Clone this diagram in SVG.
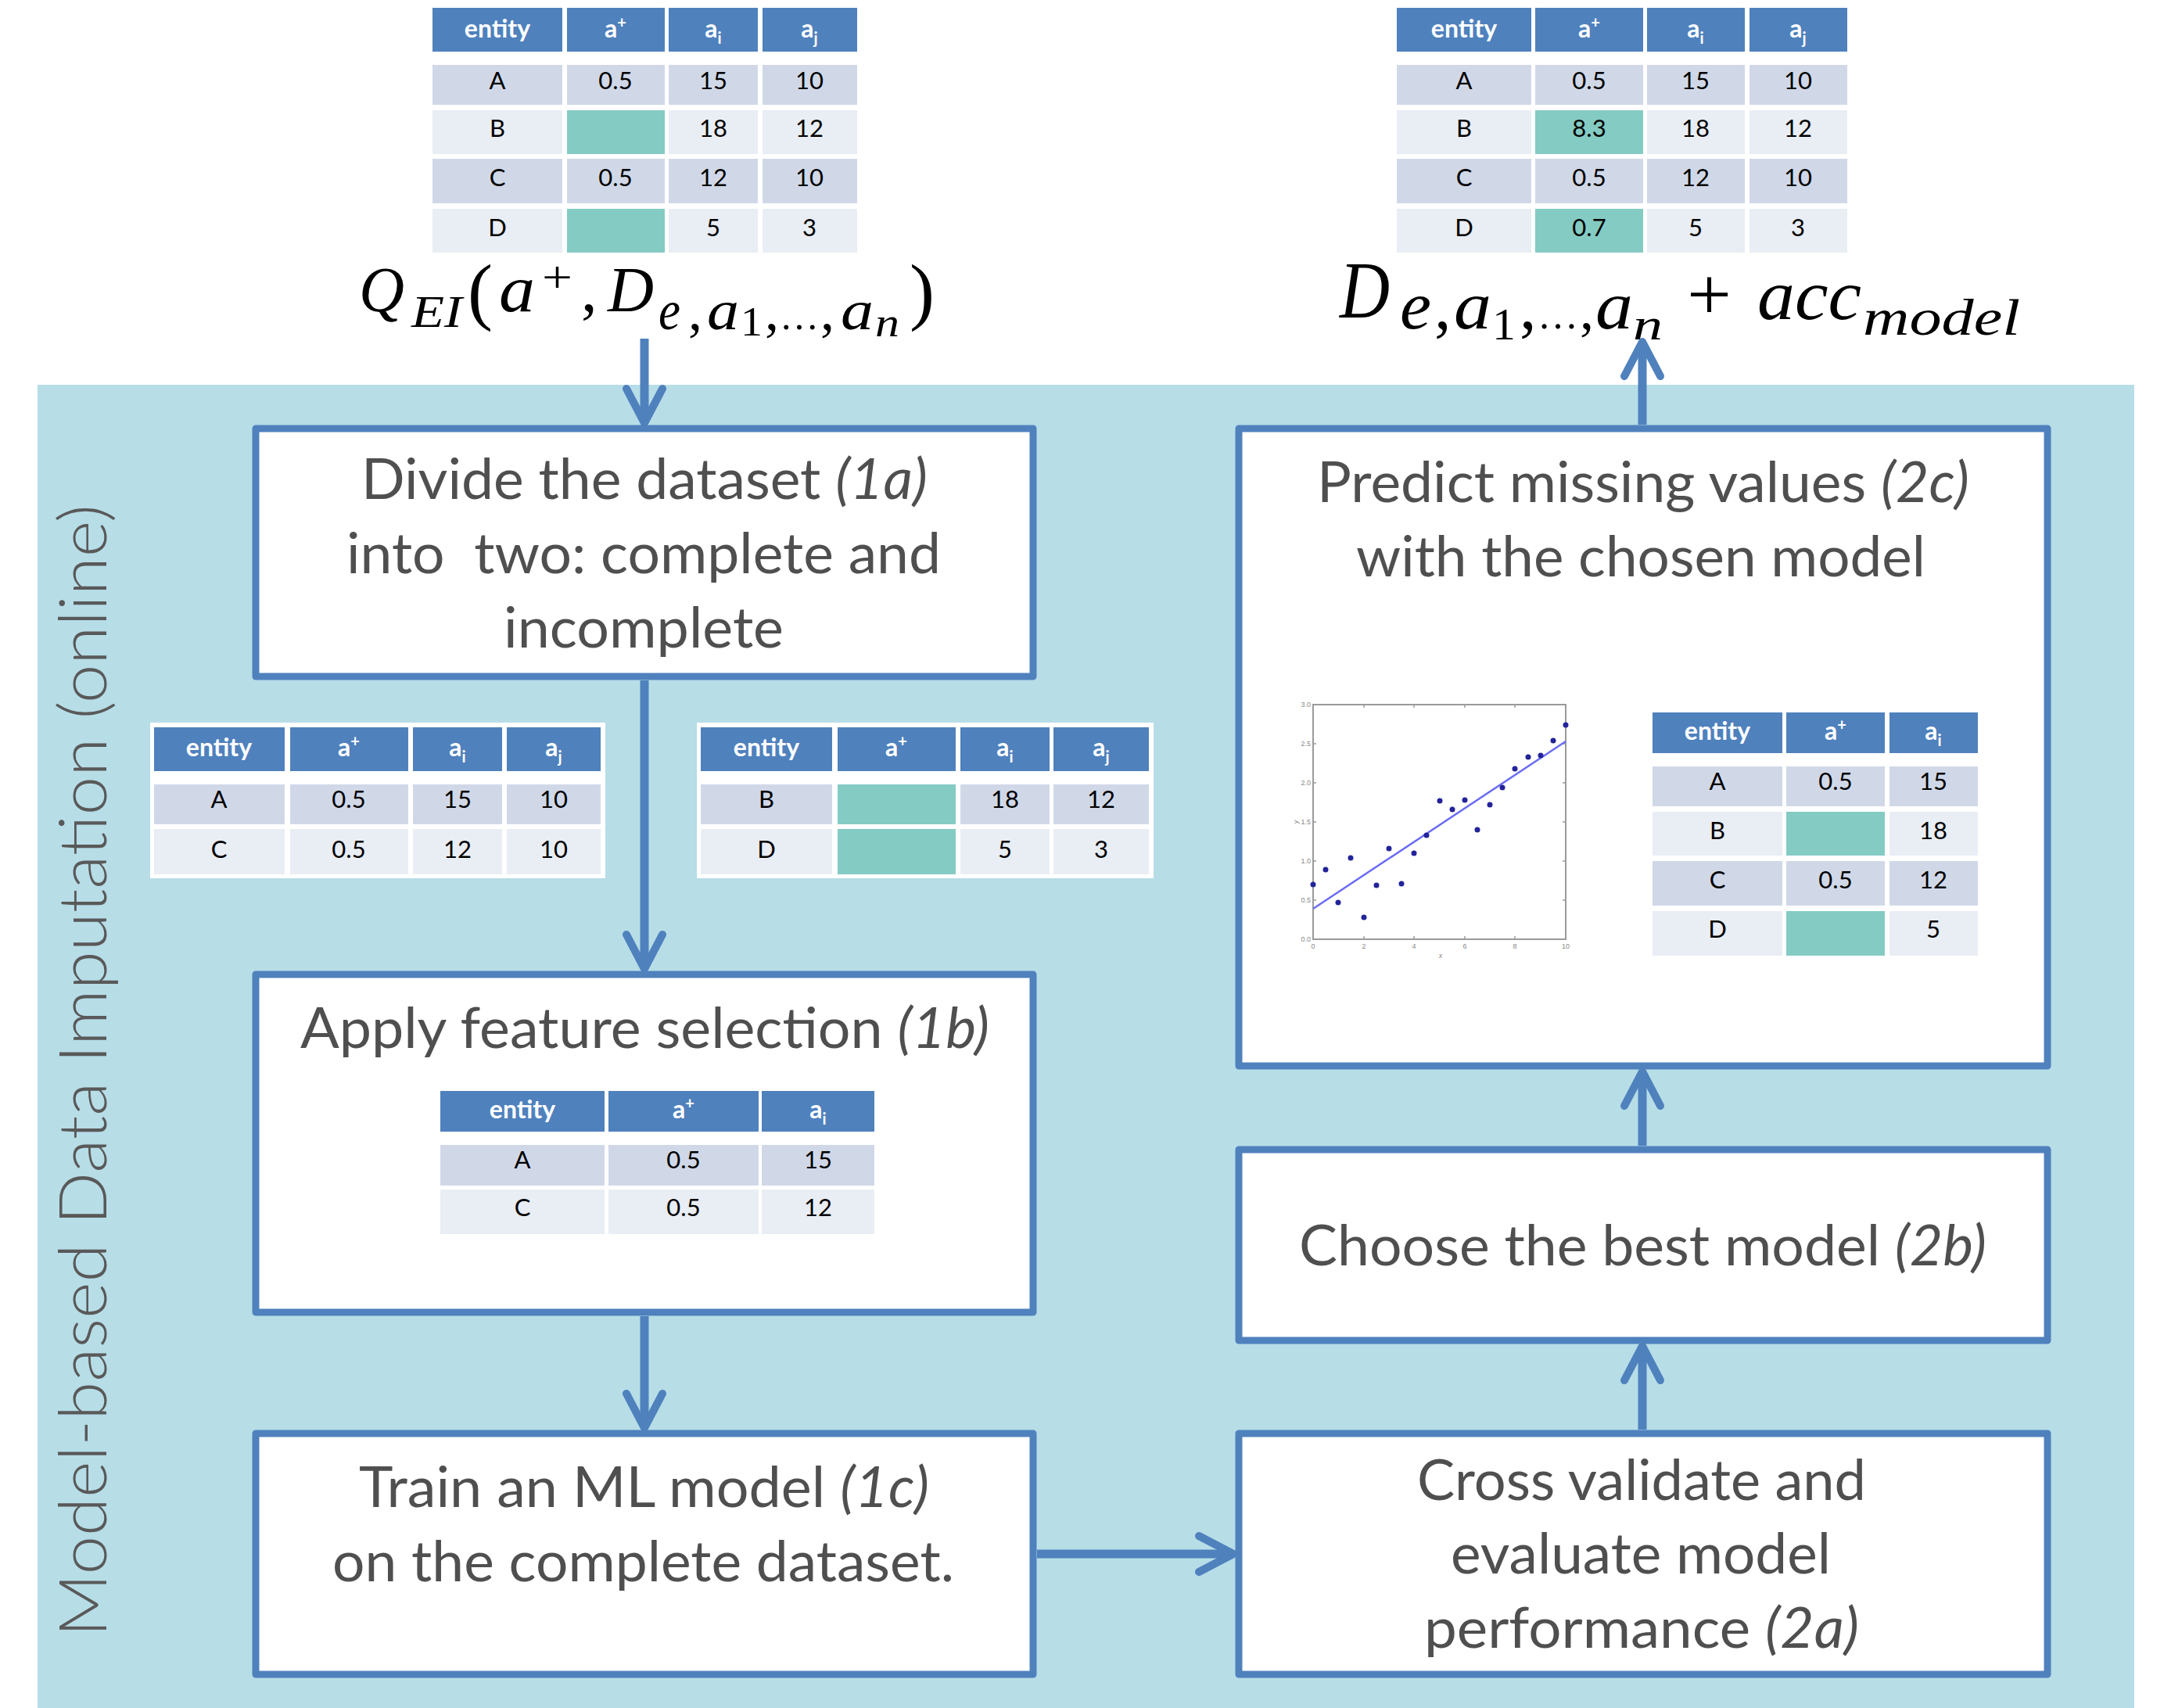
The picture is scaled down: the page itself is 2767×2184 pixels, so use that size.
<svg xmlns="http://www.w3.org/2000/svg" width="2767" height="2184" viewBox="0 0 2767 2184">
<defs>
<style>
.hd{fill:#4f81bd}
.r1{fill:#d0d8e8}
.r2{fill:#e9edf4}
.tl{fill:#84cbc3}
.wb{fill:#ffffff}
.th{font-family:Lato,'Open Sans',sans-serif;font-weight:bold;font-size:32px;fill:#ffffff;text-anchor:middle}
.td{font-family:Lato,'Open Sans',sans-serif;font-size:31px;fill:#000000;text-anchor:middle}
.ss{font-size:20px}
.box{fill:#ffffff;stroke:#4f81bd;stroke-width:9;stroke-linejoin:round}
.lbl{font-family:Lato,'Open Sans',sans-serif;font-size:72px;fill:#4f4f4f}
.it{font-style:italic}
.con{stroke:#4f81bd;stroke-width:11;fill:none;marker-end:url(#arr)}
.mi{font-family:'Liberation Serif','DejaVu Serif',serif;font-style:italic;fill:#000000}
.up{font-style:normal}
.tk{font-family:'Liberation Sans',sans-serif;font-size:9px;fill:#888888}
</style>
<marker id="arr" markerUnits="userSpaceOnUse" markerWidth="80" markerHeight="80" viewBox="-60 -40 80 80" refX="0" refY="0" orient="auto" overflow="visible">
<path d="M-44,-23 L0,0 L-44,23" fill="none" stroke="#4f81bd" stroke-width="10" stroke-linecap="round" stroke-linejoin="round"/>
</marker>
</defs>
<rect x="0" y="0" width="2767" height="2184" fill="#ffffff"/>
<rect id="panel" x="48" y="492" width="2681" height="1692" fill="#b7dde7"/>
<text id="side-label" transform="translate(136,2093) rotate(-90)" font-family="Lato,'Open Sans',sans-serif" font-weight="300" font-size="84" fill="#595959" textLength="1448" lengthAdjust="spacingAndGlyphs">Model-based Data Imputation (online)</text>

<!-- Top-left input table -->
<g id="table-input">
<rect class="hd" x="553" y="10" width="166" height="56"/><rect class="hd" x="725" y="10" width="125" height="56"/><rect class="hd" x="855" y="10" width="114" height="56"/><rect class="hd" x="975" y="10" width="121" height="56"/>
<rect class="r1" x="553" y="83" width="166" height="51"/><rect class="r1" x="725" y="83" width="125" height="51"/><rect class="r1" x="855" y="83" width="114" height="51"/><rect class="r1" x="975" y="83" width="121" height="51"/>
<rect class="r2" x="553" y="141" width="166" height="56"/><rect class="tl" x="725" y="141" width="125" height="56"/><rect class="r2" x="855" y="141" width="114" height="56"/><rect class="r2" x="975" y="141" width="121" height="56"/>
<rect class="r1" x="553" y="203" width="166" height="57"/><rect class="r1" x="725" y="203" width="125" height="57"/><rect class="r1" x="855" y="203" width="114" height="57"/><rect class="r1" x="975" y="203" width="121" height="57"/>
<rect class="r2" x="553" y="267" width="166" height="56"/><rect class="tl" x="725" y="267" width="125" height="56"/><rect class="r2" x="855" y="267" width="114" height="56"/><rect class="r2" x="975" y="267" width="121" height="56"/>
<text class="th" x="636" y="48">entity</text><text class="th" x="787" y="48">a<tspan class="ss" dy="-12">+</tspan></text><text class="th" x="912" y="48">a<tspan class="ss" dy="8">i</tspan></text><text class="th" x="1035" y="48">a<tspan class="ss" dy="8">j</tspan></text>
<text class="td" x="636" y="114">A</text><text class="td" x="787" y="114">0.5</text><text class="td" x="912" y="114">15</text><text class="td" x="1035" y="114">10</text>
<text class="td" x="636" y="175">B</text><text class="td" x="912" y="175">18</text><text class="td" x="1035" y="175">12</text>
<text class="td" x="636" y="238">C</text><text class="td" x="787" y="238">0.5</text><text class="td" x="912" y="238">12</text><text class="td" x="1035" y="238">10</text>
<text class="td" x="636" y="302">D</text><text class="td" x="912" y="302">5</text><text class="td" x="1035" y="302">3</text>
</g>

<!-- Top-right output table -->
<g id="table-output">
<rect class="hd" x="1786" y="10" width="172" height="56"/><rect class="hd" x="1963" y="10" width="138" height="56"/><rect class="hd" x="2106" y="10" width="125" height="56"/><rect class="hd" x="2237" y="10" width="125" height="56"/>
<rect class="r1" x="1786" y="83" width="172" height="51"/><rect class="r1" x="1963" y="83" width="138" height="51"/><rect class="r1" x="2106" y="83" width="125" height="51"/><rect class="r1" x="2237" y="83" width="125" height="51"/>
<rect class="r2" x="1786" y="141" width="172" height="56"/><rect class="tl" x="1963" y="141" width="138" height="56"/><rect class="r2" x="2106" y="141" width="125" height="56"/><rect class="r2" x="2237" y="141" width="125" height="56"/>
<rect class="r1" x="1786" y="203" width="172" height="57"/><rect class="r1" x="1963" y="203" width="138" height="57"/><rect class="r1" x="2106" y="203" width="125" height="57"/><rect class="r1" x="2237" y="203" width="125" height="57"/>
<rect class="r2" x="1786" y="267" width="172" height="56"/><rect class="tl" x="1963" y="267" width="138" height="56"/><rect class="r2" x="2106" y="267" width="125" height="56"/><rect class="r2" x="2237" y="267" width="125" height="56"/>
<text class="th" x="1872" y="48">entity</text><text class="th" x="2032" y="48">a<tspan class="ss" dy="-12">+</tspan></text><text class="th" x="2168" y="48">a<tspan class="ss" dy="8">i</tspan></text><text class="th" x="2299" y="48">a<tspan class="ss" dy="8">j</tspan></text>
<text class="td" x="1872" y="114">A</text><text class="td" x="2032" y="114">0.5</text><text class="td" x="2168" y="114">15</text><text class="td" x="2299" y="114">10</text>
<text class="td" x="1872" y="175">B</text><text class="td" x="2032" y="175">8.3</text><text class="td" x="2168" y="175">18</text><text class="td" x="2299" y="175">12</text>
<text class="td" x="1872" y="238">C</text><text class="td" x="2032" y="238">0.5</text><text class="td" x="2168" y="238">12</text><text class="td" x="2299" y="238">10</text>
<text class="td" x="1872" y="302">D</text><text class="td" x="2032" y="302">0.7</text><text class="td" x="2168" y="302">5</text><text class="td" x="2299" y="302">3</text>
</g>

<!-- Formulas -->
<text id="formula-input" class="mi" font-size="82"><tspan x="459" y="398" textLength="58" lengthAdjust="spacingAndGlyphs">Q</tspan><tspan x="526" y="418" font-size="56" textLength="65" lengthAdjust="spacingAndGlyphs">EI</tspan><tspan class="up" x="598" y="404" font-size="96">(</tspan><tspan x="638" y="398" font-size="84" textLength="46" lengthAdjust="spacingAndGlyphs">a</tspan><tspan class="up" x="693" y="374" font-size="58" textLength="39" lengthAdjust="spacingAndGlyphs">+</tspan><tspan class="up" x="743" y="398">,</tspan><tspan x="777" y="398" textLength="59" lengthAdjust="spacingAndGlyphs">D</tspan><tspan x="842" y="421" font-size="72" textLength="28" lengthAdjust="spacingAndGlyphs">e</tspan><tspan class="up" x="880" y="421" font-size="72">,</tspan><tspan x="904" y="421" font-size="72" textLength="41" lengthAdjust="spacingAndGlyphs">a</tspan><tspan class="up" x="947" y="429" font-size="52" textLength="28" lengthAdjust="spacingAndGlyphs">1</tspan><tspan class="up" x="978" y="421" font-size="72">,</tspan><tspan class="up" x="997" y="421" font-size="50">…</tspan><tspan class="up" x="1049" y="421" font-size="72">,</tspan><tspan x="1075" y="421" font-size="72" textLength="42" lengthAdjust="spacingAndGlyphs">a</tspan><tspan x="1119" y="430" font-size="52" textLength="31" lengthAdjust="spacingAndGlyphs">n</tspan><tspan class="up" x="1163" y="404" font-size="96">)</tspan></text>
<text id="formula-output" class="mi" font-size="86"><tspan x="1713" y="406" font-size="104" textLength="64" lengthAdjust="spacingAndGlyphs">D</tspan><tspan x="1790" y="420" textLength="40" lengthAdjust="spacingAndGlyphs">e</tspan><tspan class="up" x="1834" y="420">,</tspan><tspan x="1859" y="420" textLength="48" lengthAdjust="spacingAndGlyphs">a</tspan><tspan class="up" x="1908" y="434" font-size="58" textLength="30" lengthAdjust="spacingAndGlyphs">1</tspan><tspan class="up" x="1943" y="420">,</tspan><tspan class="up" x="1966" y="420" font-size="52">…</tspan><tspan class="up" x="2020" y="420" font-size="72">,</tspan><tspan x="2040" y="420" textLength="48" lengthAdjust="spacingAndGlyphs">a</tspan><tspan x="2088" y="434" font-size="58" textLength="38" lengthAdjust="spacingAndGlyphs">n</tspan><tspan class="up" x="2157" y="408" font-size="96" textLength="57" lengthAdjust="spacingAndGlyphs">+</tspan><tspan x="2247" y="408" font-size="92" textLength="133" lengthAdjust="spacingAndGlyphs">acc</tspan><tspan x="2382" y="428" font-size="66" textLength="201" lengthAdjust="spacingAndGlyphs">model</tspan></text>

<!-- Boxes -->
<g id="node-1a">
<rect class="box" x="327" y="548" width="994" height="317"/>
<text class="lbl" x="462" y="638" textLength="724" lengthAdjust="spacingAndGlyphs">Divide the dataset <tspan class="it">(1a)</tspan></text>
<text class="lbl" x="443" y="733" textLength="760" lengthAdjust="spacingAndGlyphs" xml:space="preserve">into  two: complete and</text>
<text class="lbl" x="644" y="828" textLength="358" lengthAdjust="spacingAndGlyphs">incomplete</text>
</g>
<g id="node-1b">
<rect class="box" x="327" y="1246" width="994" height="432"/>
<text class="lbl" x="384" y="1340" textLength="881" lengthAdjust="spacingAndGlyphs">Apply feature selection <tspan class="it">(1b)</tspan></text>
<rect class="hd" x="563" y="1395" width="210" height="52"/><rect class="hd" x="778" y="1395" width="192" height="52"/><rect class="hd" x="974" y="1395" width="144" height="52"/>
<rect class="r1" x="563" y="1464" width="210" height="52"/><rect class="r1" x="778" y="1464" width="192" height="52"/><rect class="r1" x="974" y="1464" width="144" height="52"/>
<rect class="r2" x="563" y="1521" width="210" height="57"/><rect class="r2" x="778" y="1521" width="192" height="57"/><rect class="r2" x="974" y="1521" width="144" height="57"/>
<text class="th" x="668" y="1430">entity</text><text class="th" x="874" y="1430">a<tspan class="ss" dy="-12">+</tspan></text><text class="th" x="1046" y="1430">a<tspan class="ss" dy="8">i</tspan></text>
<text class="td" x="668" y="1494">A</text><text class="td" x="874" y="1494">0.5</text><text class="td" x="1046" y="1494">15</text>
<text class="td" x="668" y="1555">C</text><text class="td" x="874" y="1555">0.5</text><text class="td" x="1046" y="1555">12</text>
</g>
<g id="node-1c">
<rect class="box" x="327" y="1833" width="994" height="308"/>
<text class="lbl" x="459" y="1927" textLength="729" lengthAdjust="spacingAndGlyphs">Train an ML model <tspan class="it">(1c)</tspan></text>
<text class="lbl" x="425" y="2022" textLength="795" lengthAdjust="spacingAndGlyphs">on the complete dataset.</text>
</g>
<g id="node-2c">
<rect class="box" x="1584" y="548" width="1034" height="815"/>
<text class="lbl" x="1684" y="642" textLength="834" lengthAdjust="spacingAndGlyphs">Predict missing values <tspan class="it">(2c)</tspan></text>
<text class="lbl" x="1734" y="737" textLength="728" lengthAdjust="spacingAndGlyphs">with the chosen model</text>
<g id="chart">
<rect x="1679" y="901" width="323" height="300" fill="#ffffff" stroke="#9a9a9a" stroke-width="2"/>
<path d="M1679,1151h4M1679,1101h4M1679,1051h4M1679,1001h4M1679,951h4M2002,1151h-4M2002,1101h-4M2002,1051h-4M2002,1001h-4M2002,951h-4M1744,1201v-4M1808,1201v-4M1873,1201v-4M1937,1201v-4M1744,901v4M1808,901v4M1873,901v4M1937,901v4" stroke="#9a9a9a" stroke-width="1.5"/>
<text class="tk" x="1676" y="1204" text-anchor="end">0.0</text><text class="tk" x="1676" y="1154" text-anchor="end">0.5</text><text class="tk" x="1676" y="1104" text-anchor="end">1.0</text><text class="tk" x="1676" y="1054" text-anchor="end">1.5</text><text class="tk" x="1676" y="1004" text-anchor="end">2.0</text><text class="tk" x="1676" y="954" text-anchor="end">2.5</text><text class="tk" x="1676" y="904" text-anchor="end">3.0</text>
<text class="tk" x="1679" y="1213" text-anchor="middle">0</text><text class="tk" x="1744" y="1213" text-anchor="middle">2</text><text class="tk" x="1808" y="1213" text-anchor="middle">4</text><text class="tk" x="1873" y="1213" text-anchor="middle">6</text><text class="tk" x="1937" y="1213" text-anchor="middle">8</text><text class="tk" x="2002" y="1213" text-anchor="middle">10</text>
<text class="tk" x="1842" y="1225" text-anchor="middle" font-style="italic">x</text>
<text class="tk" transform="translate(1660,1051) rotate(-90)" text-anchor="middle" font-style="italic">y</text>
<line x1="1679" y1="1162" x2="2002" y2="948" stroke="#6a6cf4" stroke-width="2.5"/>
<g fill="#23239a">
<circle cx="1679" cy="1131" r="3.5"/><circle cx="1695" cy="1112" r="3.5"/><circle cx="1711" cy="1154" r="3.5"/><circle cx="1727" cy="1097" r="3.5"/><circle cx="1744" cy="1173" r="3.5"/><circle cx="1760" cy="1132" r="3.5"/><circle cx="1776" cy="1085" r="3.5"/><circle cx="1792" cy="1130" r="3.5"/><circle cx="1808" cy="1091" r="3.5"/><circle cx="1824" cy="1068" r="3.5"/><circle cx="1841" cy="1024" r="3.5"/><circle cx="1857" cy="1035" r="3.5"/><circle cx="1873" cy="1023" r="3.5"/><circle cx="1889" cy="1061" r="3.5"/><circle cx="1905" cy="1029" r="3.5"/><circle cx="1921" cy="1007" r="3.5"/><circle cx="1937" cy="983" r="3.5"/><circle cx="1954" cy="968" r="3.5"/><circle cx="1970" cy="966" r="3.5"/><circle cx="1986" cy="947" r="3.5"/><circle cx="2002" cy="927" r="3.5"/>
</g>
</g>
<g id="table-2c">
<rect class="hd" x="2113" y="911" width="166" height="52"/><rect class="hd" x="2284" y="911" width="126" height="52"/><rect class="hd" x="2416" y="911" width="113" height="52"/>
<rect class="r1" x="2113" y="980" width="166" height="51"/><rect class="r1" x="2284" y="980" width="126" height="51"/><rect class="r1" x="2416" y="980" width="113" height="51"/>
<rect class="r2" x="2113" y="1038" width="166" height="56"/><rect class="tl" x="2284" y="1038" width="126" height="56"/><rect class="r2" x="2416" y="1038" width="113" height="56"/>
<rect class="r1" x="2113" y="1101" width="166" height="57"/><rect class="r1" x="2284" y="1101" width="126" height="57"/><rect class="r1" x="2416" y="1101" width="113" height="57"/>
<rect class="r2" x="2113" y="1165" width="166" height="57"/><rect class="tl" x="2284" y="1165" width="126" height="57"/><rect class="r2" x="2416" y="1165" width="113" height="57"/>
<text class="th" x="2196" y="946">entity</text><text class="th" x="2347" y="946">a<tspan class="ss" dy="-12">+</tspan></text><text class="th" x="2472" y="946">a<tspan class="ss" dy="8">i</tspan></text>
<text class="td" x="2196" y="1010">A</text><text class="td" x="2347" y="1010">0.5</text><text class="td" x="2472" y="1010">15</text>
<text class="td" x="2196" y="1073">B</text><text class="td" x="2472" y="1073">18</text>
<text class="td" x="2196" y="1136">C</text><text class="td" x="2347" y="1136">0.5</text><text class="td" x="2472" y="1136">12</text>
<text class="td" x="2196" y="1199">D</text><text class="td" x="2472" y="1199">5</text>
</g>
</g>
<g id="node-2b">
<rect class="box" x="1584" y="1470" width="1034" height="244"/>
<text class="lbl" x="1661" y="1618" textLength="879" lengthAdjust="spacingAndGlyphs">Choose the best model <tspan class="it">(2b)</tspan></text>
</g>
<g id="node-2a">
<rect class="box" x="1584" y="1833" width="1034" height="308"/>
<text class="lbl" x="1812" y="1918" textLength="574" lengthAdjust="spacingAndGlyphs">Cross validate and</text>
<text class="lbl" x="1855" y="2012" textLength="486" lengthAdjust="spacingAndGlyphs">evaluate model</text>
<text class="lbl" x="1821" y="2107" textLength="556" lengthAdjust="spacingAndGlyphs">performance <tspan class="it">(2a)</tspan></text>
</g>

<!-- Split tables -->
<g id="table-complete">
<rect class="wb" x="192" y="924" width="582" height="199"/>
<rect class="hd" x="197" y="930" width="167" height="56"/><rect class="hd" x="371" y="930" width="151" height="56"/><rect class="hd" x="528" y="930" width="114" height="56"/><rect class="hd" x="648" y="930" width="120" height="56"/>
<rect class="r1" x="197" y="1003" width="167" height="51"/><rect class="r1" x="371" y="1003" width="151" height="51"/><rect class="r1" x="528" y="1003" width="114" height="51"/><rect class="r1" x="648" y="1003" width="120" height="51"/>
<rect class="r2" x="197" y="1060" width="167" height="58"/><rect class="r2" x="371" y="1060" width="151" height="58"/><rect class="r2" x="528" y="1060" width="114" height="58"/><rect class="r2" x="648" y="1060" width="120" height="58"/>
<text class="th" x="280" y="967">entity</text><text class="th" x="446" y="967">a<tspan class="ss" dy="-12">+</tspan></text><text class="th" x="585" y="967">a<tspan class="ss" dy="8">i</tspan></text><text class="th" x="708" y="967">a<tspan class="ss" dy="8">j</tspan></text>
<text class="td" x="280" y="1033">A</text><text class="td" x="446" y="1033">0.5</text><text class="td" x="585" y="1033">15</text><text class="td" x="708" y="1033">10</text>
<text class="td" x="280" y="1097">C</text><text class="td" x="446" y="1097">0.5</text><text class="td" x="585" y="1097">12</text><text class="td" x="708" y="1097">10</text>
</g>
<g id="table-incomplete">
<rect class="wb" x="891" y="924" width="584" height="199"/>
<rect class="hd" x="896" y="930" width="168" height="56"/><rect class="hd" x="1071" y="930" width="151" height="56"/><rect class="hd" x="1228" y="930" width="114" height="56"/><rect class="hd" x="1347" y="930" width="122" height="56"/>
<rect class="r1" x="896" y="1003" width="168" height="51"/><rect class="tl" x="1071" y="1003" width="151" height="51"/><rect class="r1" x="1228" y="1003" width="114" height="51"/><rect class="r1" x="1347" y="1003" width="122" height="51"/>
<rect class="r2" x="896" y="1060" width="168" height="58"/><rect class="tl" x="1071" y="1060" width="151" height="58"/><rect class="r2" x="1228" y="1060" width="114" height="58"/><rect class="r2" x="1347" y="1060" width="122" height="58"/>
<text class="th" x="980" y="967">entity</text><text class="th" x="1146" y="967">a<tspan class="ss" dy="-12">+</tspan></text><text class="th" x="1285" y="967">a<tspan class="ss" dy="8">i</tspan></text><text class="th" x="1408" y="967">a<tspan class="ss" dy="8">j</tspan></text>
<text class="td" x="980" y="1033">B</text><text class="td" x="1285" y="1033">18</text><text class="td" x="1408" y="1033">12</text>
<text class="td" x="980" y="1097">D</text><text class="td" x="1285" y="1097">5</text><text class="td" x="1408" y="1097">3</text>
</g>

<!-- Connectors -->
<g id="connectors">
<line class="con" x1="824" y1="433" x2="824" y2="541"/>
<line class="con" x1="824" y1="870" x2="824" y2="1239"/>
<line class="con" x1="824" y1="1683" x2="824" y2="1826"/>
<line class="con" x1="1326" y1="1987" x2="1577" y2="1987"/>
<line class="con" x1="2100" y1="1828" x2="2100" y2="1721"/>
<line class="con" x1="2100" y1="1465" x2="2100" y2="1370"/>
<line class="con" x1="2100" y1="543" x2="2100" y2="437"/>
</g>
</svg>
